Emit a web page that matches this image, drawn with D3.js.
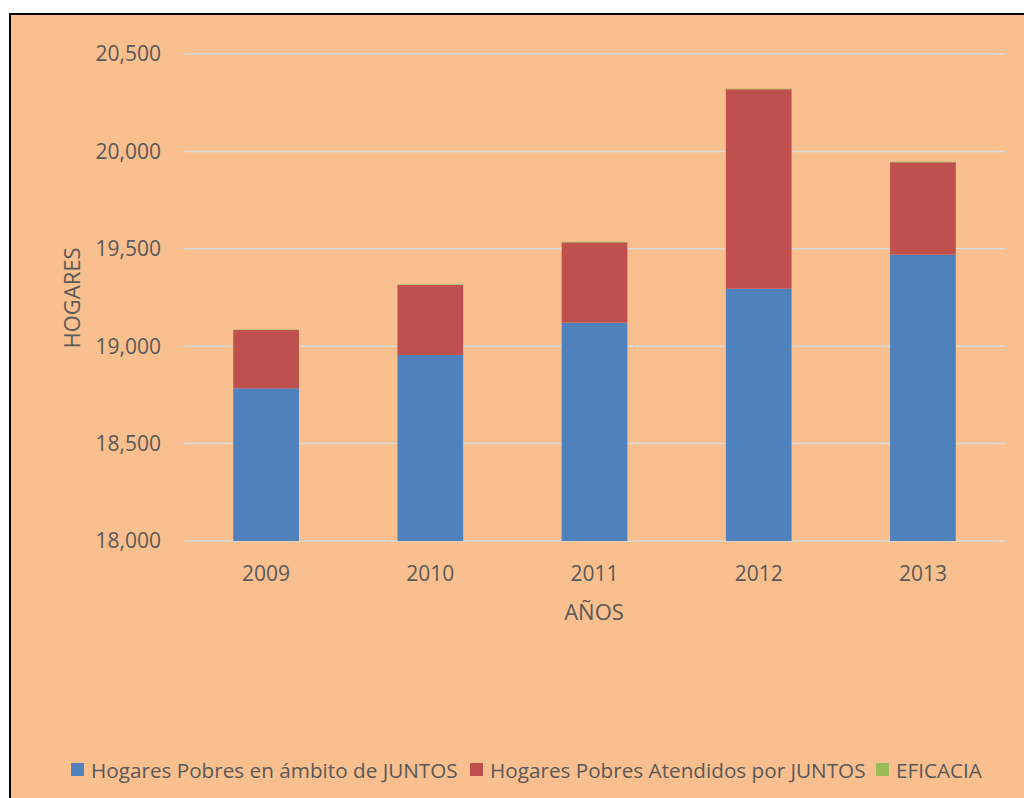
<!DOCTYPE html>
<html>
<head>
<meta charset="utf-8">
<script src="https://cdn.jsdelivr.net/npm/d3@7"></script>
<style>
  html, body { margin: 0; padding: 0; background: #ffffff; }
  svg { display: block; }
  text { font-family: "Open Sans", "Noto Sans", sans-serif; fill: #595959; }
</style>
</head>
<body>
<svg id="chart" width="1024" height="798"></svg>
<script>
const years = ["2009", "2010", "2011", "2012", "2013"];
const hogaresAmbito = [18784, 18955, 19121, 19295, 19470];
const hogaresAtendidos = [299, 359, 412, 1024, 474];
const eficacia = [3, 3, 3, 3, 3];
const seriesNames = ["Hogares Pobres en ámbito de JUNTOS", "Hogares Pobres Atendidos por JUNTOS", "EFICACIA"];
const seriesColors = ["#4F81BD", "#C0504D", "#9BBB59"];
const yTicks = [18000, 18500, 19000, 19500, 20000, 20500];

(function () {
const svg = d3.select("#chart");
const W = 1024, H = 798;

// background frame
svg.append("rect").attr("x", 10).attr("y", 14).attr("width", W).attr("height", H)
  .attr("fill", "#F9BF8F").attr("stroke", "#000").attr("stroke-width", 2);

const mLeft = 184, mRight = 1005, mTop = 54, mBottom = 541;

const x = d3.scaleBand().domain(years).range([mLeft, mRight]).paddingInner(0.6).paddingOuter(0.3);
const y = d3.scaleLinear().domain([18000, 20500]).range([mBottom, mTop]);

// gridlines
svg.append("g").selectAll("line").data(yTicks).join("line")
  .attr("x1", mLeft).attr("x2", mRight)
  .attr("y1", d => y(d)).attr("y2", d => y(d))
  .attr("stroke", "#D9D9D9").attr("stroke-width", 1.5);

// stacked data
const rows = years.map((yr, i) => ({ year: yr, a: hogaresAmbito[i], b: hogaresAtendidos[i], c: eficacia[i] }));
const stacked = d3.stack().keys(["a", "b", "c"])(rows);

svg.append("g").selectAll("g").data(stacked).join("g")
  .attr("fill", (d, i) => seriesColors[i])
  .selectAll("rect").data(d => d).join("rect")
  .attr("x", d => x(d.data.year))
  .attr("width", x.bandwidth())
  .attr("y", d => y(Math.max(d[1], 18000)))
  .attr("height", d => Math.max(0, y(Math.max(d[0], 18000)) - y(Math.max(d[1], 18000))));

// y axis labels
const fmt = d3.format(",");
svg.append("g").selectAll("text").data(yTicks).join("text")
  .attr("x", 161).attr("y", d => y(d)).attr("dy", "0.35em")
  .attr("text-anchor", "end").attr("font-size", 21)
  .text(d => fmt(d));

// x axis labels
svg.append("g").selectAll("text").data(years).join("text")
  .attr("x", d => x(d) + x.bandwidth() / 2).attr("y", 581)
  .attr("text-anchor", "middle").attr("font-size", 21)
  .text(d => d);

// axis titles
svg.append("text").attr("transform", "translate(80,298) rotate(-90)")
  .attr("text-anchor", "middle").attr("font-size", 22).text("HOGARES");
svg.append("text").attr("x", 594).attr("y", 620)
  .attr("text-anchor", "middle").attr("font-size", 22).text("AÑOS");

// legend
const legendTextStarts = [91, 490, 896];
const legendBoxStarts = [71, 470, 876];
const lg = svg.append("g");
seriesNames.forEach((name, i) => {
  lg.append("rect").attr("x", legendBoxStarts[i]).attr("y", 763).attr("width", 13).attr("height", 13)
    .attr("fill", seriesColors[i]);
  lg.append("text").attr("x", legendTextStarts[i]).attr("y", 778).attr("font-size", 20.7).text(name);
});
})();
</script>
</body>
</html>
